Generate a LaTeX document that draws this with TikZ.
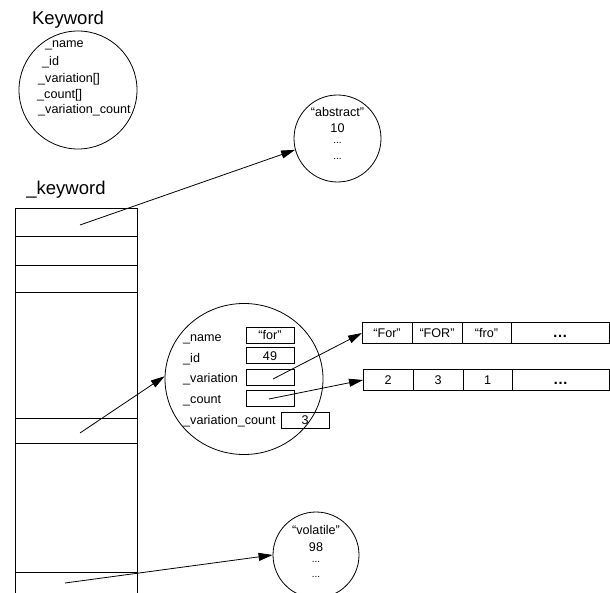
\documentclass[tikz,border=0pt]{standalone}
\usepackage{fontspec}
\setmainfont{Liberation Sans}
\usetikzlibrary{shapes.geometric, arrows.meta, positioning, calc}

\tikzset{
  txt/.style={font=\fontsize{12.6}{14}\selectfont, inner sep=0pt, text height=9pt, text depth=0pt},
  dots/.style={font=\fontsize{10}{11}\selectfont, inner sep=0pt},
  title/.style={font=\fontsize{18.5}{20}\selectfont, inner sep=0pt},
  field/.style={draw, line width=0.8pt, minimum width=48pt, minimum height=16pt, inner sep=0pt, txt},
  cell/.style={draw, line width=0.8pt, minimum height=21pt, inner sep=0pt, outer sep=0pt, txt},
  obj/.style={draw, circle, line width=0.8pt, inner sep=0pt},
  ptr/.style={-{Triangle[length=14pt,width=8pt]}, line width=0.8pt}
}

\begin{document}
\begin{tikzpicture}[x=1pt, y=-1pt]
\useasboundingbox (0,0) rectangle (610,593);

% Keyword class
\node[title] (kwtitle) at (68,20) {Keyword};
\node[obj, minimum size=118pt] (kw) at (78,90) {};
\node[txt, anchor=west] (kwname) at (45,43) {\_name};
\node[txt, anchor=west] (kwid) at (42,61) {\_id};
\node[txt, anchor=west] (kwvar) at (38,78) {\_variation[]};
\node[txt, anchor=west] (kwcnt) at (37,94) {\_count[]};
\node[txt, anchor=west] (kwvc) at (38,109) {\_variation\_count};

% _keyword table
\node[title] (tbltitle) at (66,190) {\_keyword};
\draw[line width=0.8pt] (15,208) -- (15,593);
\draw[line width=0.8pt] (137,208) -- (137,593);
\foreach \y in {208,236,265,292,418,443,572}
  \draw[line width=0.8pt] (15,\y) -- (137,\y);
\coordinate (slot1) at (80,225);
\coordinate (slot2) at (80,433);
\coordinate (slot3) at (65,583);

% "abstract"
\node[obj, minimum size=87pt] (abs) at (337.5,138.5) {};
\node[txt] (absname) at (337.5,112) {“abstract”};
\node[txt] (absid) at (337.5,128) {10};
\node[dots] (absd1) at (337.5,143) {...};
\node[dots] (absd2) at (337.5,159) {...};

% "for"
\node[draw, ellipse, line width=0.8pt, minimum width=158pt, minimum height=151pt] (forc) at (244,379) {};
\node[txt, anchor=west] (fname) at (183,337) {\_name};
\node[txt, anchor=west] (fid) at (183,358) {\_id};
\node[txt, anchor=west] (fvar) at (183,378) {\_variation};
\node[txt, anchor=west] (fcnt) at (183,399) {\_count};
\node[txt, anchor=west] (fvc) at (183,420) {\_variation\_count};
\node[field] (bname) at (270,335) {“for”};
\node[field] (bid) at (270,355.5) {49};
\node[field] (bvar) at (270,377) {};
\node[field] (bcnt) at (270,398.5) {};
\node[field] (bvc) at (305,420) {3};
\coordinate (pvar) at (273,379);
\coordinate (pcnt) at (269,399);

% variation array
\node[cell, minimum width=50pt] (v1) at (387,333) {“For”};
\node[cell, minimum width=50pt, right=0pt of v1] (v2) {“FOR”};
\node[cell, minimum width=49pt, right=0pt of v2] (v3) {“fro”};
\node[cell, minimum width=98pt, right=0pt of v3, font=\fontsize{15}{16}\selectfont] (v4) {\textbf{…}};

% count array
\node[cell, minimum width=50pt] (c1) at (388,380) {2};
\node[cell, minimum width=50pt, right=0pt of c1] (c2) {3};
\node[cell, minimum width=49pt, right=0pt of c2] (c3) {1};
\node[cell, minimum width=97pt, right=0pt of c3, font=\fontsize{15}{16}\selectfont] (c4) {\textbf{…}};

% "volatile"
\node[obj, minimum size=86pt] (vol) at (316,555) {};
\node[txt] (volname) at (316,530) {“volatile”};
\node[txt] (volid) at (316,547) {98};
\node[dots] (vold1) at (316,562) {...};
\node[dots] (vold2) at (316,577) {...};

% Pointers
\draw[ptr] (slot1) -- (abs.195);
\draw[ptr] (slot2) -- (forc.178);
\draw[ptr] (slot3) -- (vol.west);
\draw[ptr] (pvar) -- (v1.west);
\draw[ptr] (pcnt) -- (c1.west);
\end{tikzpicture}
\end{document}
